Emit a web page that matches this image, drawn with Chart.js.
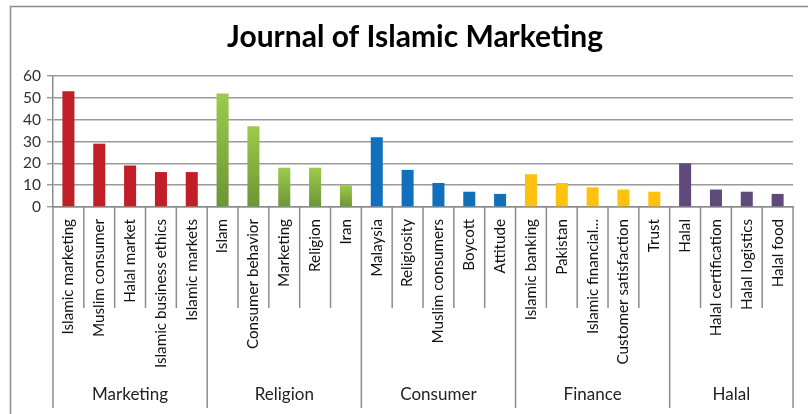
<!DOCTYPE html>
<html>
<head>
<meta charset="utf-8">
<script src="https://cdn.jsdelivr.net/npm/chart.js@4"></script>
<style>
  body { margin: 0; background: #fff; }
  #wrap { width: 808px; height: 414px; }
</style>
</head>
<body>
<div id="wrap"><canvas id="grafico" width="808" height="414"></canvas></div>
<script>
// --- dados ---
const titulo = 'Journal of Islamic Marketing';
const categorias = [
    'Islamic marketing', 'Muslim consumer', 'Halal market', 'Islamic business ethics', 'Islamic markets',
    'Islam', 'Consumer behavior', 'Marketing', 'Religion', 'Iran',
    'Malaysia', 'Religiosity', 'Muslim consumers', 'Boycott', 'Attitude',
    'Islamic banking', 'Pakistan', 'Islamic financial...', 'Customer satisfaction', 'Trust',
    'Halal', 'Halal certification', 'Halal logistics', 'Halal food'
];
const valores = [
    53, 29, 19, 16, 16,
    52, 37, 18, 18, 10,
    32, 17, 11, 7, 6,
    15, 11, 9, 8, 7,
    20, 8, 7, 6
];
const grupos = ['Marketing', 'Religion', 'Consumer', 'Finance', 'Halal'];
const tamanhoGrupos = [5, 5, 5, 5, 4];
const yTicks = [0, 10, 20, 30, 40, 50, 60];

const coresGrupos = ['#C01F28', 'green', '#1170BB', '#FFC110', '#5F4A7B'];
const fonte = 'Lato, "Open Sans", sans-serif';

// grupo de cada categoria
const grupoDe = [];
tamanhoGrupos.forEach((n, g) => { for (let i = 0; i < n; i++) grupoDe.push(g); });

function corBarra(context) {
    const g = grupoDe[context.dataIndex];
    if (coresGrupos[g] !== 'green') return coresGrupos[g];
    const chart = context.chart;
    const y = chart.scales.y;
    if (!chart.chartArea || !y) return '#86B142';
    const topo = y.getPixelForValue(valores[context.dataIndex]);
    const base = y.getPixelForValue(0);
    const grad = chart.ctx.createLinearGradient(0, topo, 0, base);
    grad.addColorStop(0, '#9CCB4B');
    grad.addColorStop(1, '#6C9435');
    return grad;
}

// título, separadores, rótulos de grupo e moldura
const pluginGrupos = {
    id: 'grupos',
    afterDraw(chart) {
        const ctx = chart.ctx;
        const area = chart.chartArea;
        const x = chart.scales.x;
        const passo = (area.right - area.left) / categorias.length;
        ctx.save();
        // título
        ctx.fillStyle = '#000';
        ctx.font = 'bold 30px ' + fonte;
        ctx.textAlign = 'center';
        ctx.textBaseline = 'alphabetic';
        ctx.fillText(titulo, 415, 47);

        ctx.strokeStyle = '#8c8c8c';
        ctx.lineWidth = 1.5;
        // limites dos grupos
        const limites = [0];
        tamanhoGrupos.forEach(n => limites.push(limites[limites.length - 1] + n));
        for (let i = 0; i <= categorias.length; i++) {
            const px = x.getPixelForValue(i) - passo / 2;
            const ehGrupo = limites.includes(i);
            ctx.beginPath();
            ctx.moveTo(px, area.bottom);
            ctx.lineTo(px, ehGrupo ? 408 : 308);
            ctx.stroke();
        }
        ctx.fillStyle = '#222';
        ctx.font = '17px ' + fonte;
        ctx.textBaseline = 'middle';
        grupos.forEach((nome, g) => {
            const a = x.getPixelForValue(limites[g]) - passo / 2;
            const b = x.getPixelForValue(limites[g + 1]) - passo / 2;
            ctx.fillText(nome, (a + b) / 2, 395);
        });
        // moldura externa
        ctx.beginPath();
        ctx.moveTo(10.5, 414);
        ctx.lineTo(10.5, 6.5);
        ctx.lineTo(808, 6.5);
        ctx.stroke();
        ctx.restore();
    }
};

new Chart(document.getElementById('grafico'), {
    type: 'bar',
    data: {
        labels: categorias,
        datasets: [{
            label: titulo,
            data: valores,
            backgroundColor: corBarra,
            barPercentage: 0.39,
            categoryPercentage: 1
        }]
    },
    options: {
        responsive: false,
        animation: false,
        layout: { padding: { left: 0, right: 7, top: 76, bottom: 0 } },
        plugins: {
            legend: { display: false },
            tooltip: { enabled: false },
            title: { display: false }
        },
        scales: {
            x: {
                grid: { display: false, drawTicks: false },
                border: { display: true, color: '#8c8c8c', width: 1.5 },
                ticks: {
                    autoSkip: false,
                    minRotation: 90,
                    maxRotation: 90,
                    padding: 12,
                    color: '#111',
                    font: { family: fonte, size: 15.2 }
                },
                afterFit(scale) { scale.height = 207; }
            },
            y: {
                min: 0,
                max: 60,
                afterBuildTicks(scale) { scale.ticks = yTicks.map(v => ({ value: v })); },
                grid: { color: '#9a9a9a', lineWidth: 1.4, tickLength: 6 },
                border: { display: true, color: '#8c8c8c', width: 1.5 },
                ticks: {
                    autoSkip: false,
                    padding: 6,
                    color: '#333',
                    font: { family: fonte, size: 15.5 }
                },
                afterFit(scale) { scale.width = 53; }
            }
        }
    },
    plugins: [pluginGrupos]
});
</script>
</body>
</html>
